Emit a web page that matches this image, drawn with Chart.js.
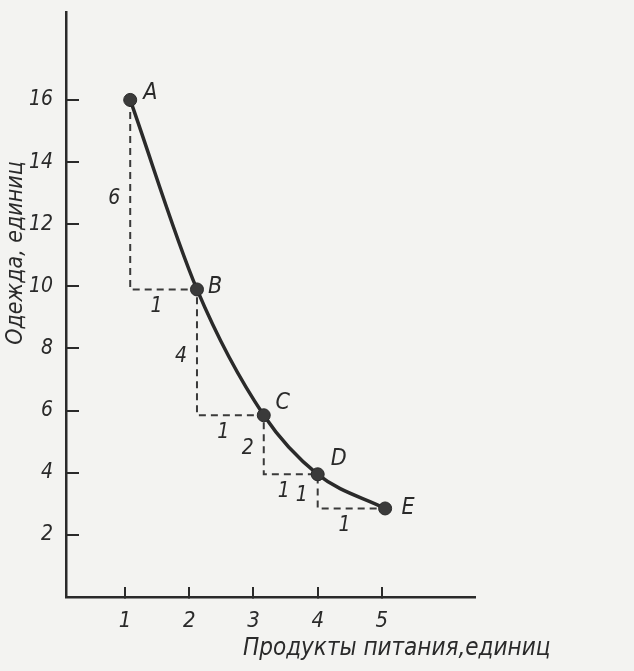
<!DOCTYPE html>
<html>
<head>
<meta charset="utf-8">
<script src="https://cdn.jsdelivr.net/npm/chart.js@4.4.1/dist/chart.umd.min.js"></script>
<style>
  html, body { margin: 0; padding: 0; background: #f3f3f1; }
  #wrap { width: 634px; height: 671px; }
</style>
</head>
<body>
<div id="wrap"><canvas id="myChart" width="634" height="671"></canvas></div>
<script>
// points of the curve (food, clothing)
const pointNames = ['A', 'B', 'C', 'D', 'E'];
const food = [1.08, 2.12, 3.16, 4.0, 5.05];
const clothes = [16, 9.9, 5.85, 3.95, 2.85];

// labels on the dashed steps
const dropLabels = ['6', '4', '2', '1'];
const runLabels = ['1', '1', '1', '1'];

const xTicks = [1, 2, 3, 4, 5];
const yTicks = [2, 4, 6, 8, 10, 12, 14, 16];

const xTitle = 'Продукты питания,единиц';
const yTitle = 'Одежда, единиц';

const ink = '#2a2a2a';
const narrow = "'Liberation Sans Narrow', 'DejaVu Sans Condensed', sans-serif";
const fam = "'DejaVu Sans Condensed', 'Liberation Sans Narrow', sans-serif";

let curve = food.map((v, i) => ({ x: v, y: clothes[i] }));

const paper = {
    id: 'paper',
    beforeDraw(chart) {
        const ctx = chart.ctx;
        ctx.save();
        ctx.fillStyle = '#f3f3f1';
        ctx.fillRect(0, 0, chart.width, chart.height);
        ctx.restore();
    }
};

const notes = {
    id: 'notes',
    afterDatasetsDraw(chart) {
        const ctx = chart.ctx;
        const x = chart.scales.x;
        const y = chart.scales.y;
        const area = chart.chartArea;
        ctx.save();
        ctx.fillStyle = ink;
        ctx.textAlign = 'center';
        ctx.textBaseline = 'middle';

        // point letters
        const off = [[20, -7], [18, -2], [19, -12], [21, -15], [23, 0]];
        ctx.font = 'italic 23px ' + narrow;
        pointNames.forEach((n, i) => {
            ctx.fillText(n, x.getPixelForValue(food[i]) + off[i][0], y.getPixelForValue(clothes[i]) + off[i][1]);
        });

        // step numbers
        ctx.font = 'italic 21px ' + narrow;
        for (let i = 0; i < food.length - 1; i++) {
            const px0 = x.getPixelForValue(food[i]);
            const px1 = x.getPixelForValue(food[i + 1]);
            const py0 = y.getPixelForValue(clothes[i]);
            const py1 = y.getPixelForValue(clothes[i + 1]);
            ctx.fillText(dropLabels[i], px0 - 16, (py0 + py1) / 2 + 4);
            ctx.fillText(runLabels[i], (px0 + px1) / 2 - 7, py1 + 17);
        }

        // axis titles
        ctx.font = 'italic 24px ' + fam;
        ctx.textAlign = 'left';
        ctx.fillText(xTitle, area.left + 177, area.bottom + 52);
        ctx.font = 'italic 23px ' + fam;
        ctx.translate(16, area.top + 241);
        ctx.rotate(-Math.PI / 2);
        ctx.textAlign = 'center';
        ctx.fillText(yTitle, 0, 0);
        ctx.restore();
    }
};

var ctx = document.getElementById('myChart');
var myChart = new Chart(ctx, {
    type: 'line',
    data: {
        datasets: [{
            data: curve,
            borderColor: ink,
            backgroundColor: ink,
            borderWidth: 3.5,
            cubicInterpolationMode: 'monotone',
            pointRadius: 6.5,
            pointBackgroundColor: '#3a3a3a',
            pointBorderColor: ink,
            pointBorderWidth: 1
        }, {
            data: curve,
            borderColor: '#3a3a3a',
            borderWidth: 2,
            borderDash: [7, 5],
            stepped: 'after',
            pointRadius: 0
        }]
    },
    options: {
        responsive: false,
        animation: false,
        layout: { padding: { top: 12, right: 159, left: 0, bottom: 0 } },
        plugins: {
            legend: { display: false },
            tooltip: { enabled: false }
        },
        scales: {
            x: {
                type: 'linear',
                min: 0.08,
                max: 6.45,
                afterBuildTicks: (axis) => { axis.ticks = xTicks.map(v => ({ value: v })); },
                afterFit: (s) => { s.height = 74; s.paddingLeft = 0; s.paddingRight = 0; },
                border: { display: true, color: ink, width: 2.5 },
                grid: { drawOnChartArea: false, drawTicks: true, tickLength: -10, color: ink, lineWidth: 2 },
                ticks: {
                    color: ink,
                    padding: 21,
                    maxRotation: 0,
                    font: { family: narrow, size: 22, style: 'italic' }
                }
            },
            y: {
                min: 0,
                max: 18.83,
                afterBuildTicks: (axis) => { axis.ticks = yTicks.map(v => ({ value: v })); },
                afterFit: (s) => { s.width = 66; s.paddingTop = 0; s.paddingBottom = 0; },
                border: { display: true, color: ink, width: 2.5 },
                grid: { drawOnChartArea: false, drawTicks: true, tickLength: -13, color: ink, lineWidth: 2 },
                ticks: {
                    color: ink,
                    padding: 26,
                    font: { family: narrow, size: 21, style: 'italic' }
                }
            }
        }
    },
    plugins: [paper, notes]
});
</script>
</body>
</html>
